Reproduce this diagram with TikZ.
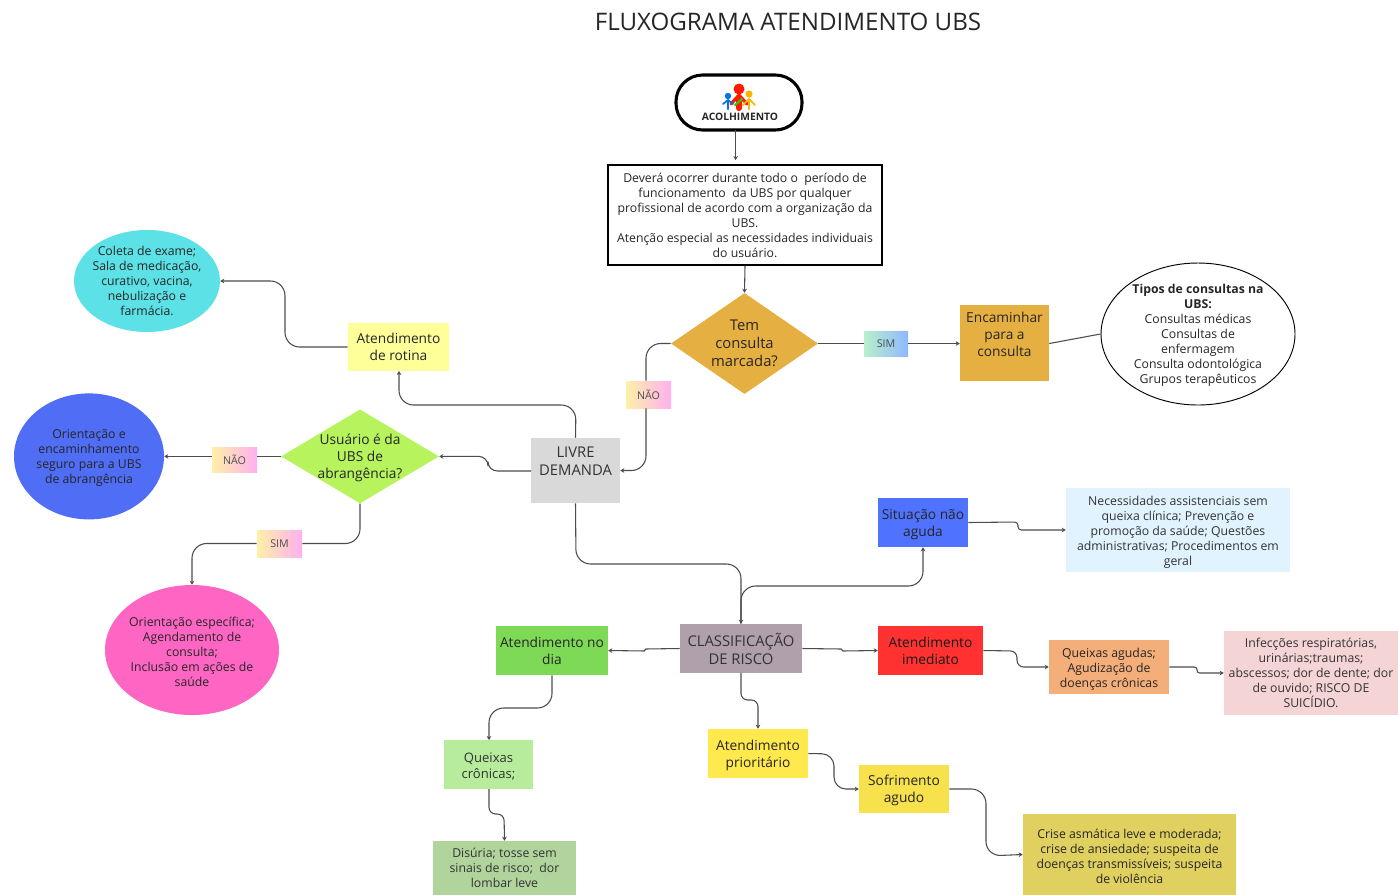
\documentclass[tikz,border=0pt]{standalone}
\usepackage{fontspec}
\setmainfont{Open Sans}
\usetikzlibrary{arrows.meta,shapes.geometric}
\newcommand{\smalltxt}{\fontsize{9.2}{11.25}\selectfont}
\newcommand{\midtxt}{\fontsize{10.3}{12.75}\selectfont}
\newcommand{\bigtxt}{\fontsize{11.1}{13.5}\selectfont}
\newcommand{\tagtxt}{\fontsize{8}{10}\selectfont}
\newcommand{\dn}[1]{\rule{0pt}{#1pt}}
\newcommand{\pxbox}[7]{%
  \pgfmathsetlengthmacro{\bw}{(#4-#2)*0.75pt}%
  \pgfmathsetlengthmacro{\bh}{(#5-#3)*0.75pt}%
  \pgfmathsetmacro{\cx}{(#2+#4)/2}%
  \pgfmathsetmacro{\cy}{(#3+#5)/2}%
  \node[boxbase,minimum width=\bw,minimum height=\bh,#6] (#1) at (\cx,\cy) {#7};}
\definecolor{cOrange}{HTML}{E5B041}
\definecolor{cClass}{HTML}{B0A0AC}
\definecolor{cAg}{HTML}{F4AE7A}
\definecolor{cInf}{HTML}{F4D4D4}
\definecolor{cPri}{HTML}{FFE94D}
\definecolor{cSof}{HTML}{F7E14D}
\definecolor{cCri}{HTML}{E0D060}
\definecolor{cQc}{HTML}{B6EC9C}
\definecolor{cDi}{HTML}{B0D49C}
\definecolor{cCol}{HTML}{5CE1E6}
\definecolor{cOri}{HTML}{4F6DF5}
\definecolor{cEsp}{HTML}{FF66C4}
\definecolor{cDia}{HTML}{7ED957}
\definecolor{cUsu}{HTML}{B6F35C}
\definecolor{cRot}{HTML}{FFFF99}
\definecolor{cSit}{HTML}{4F73FF}
\definecolor{cNec}{HTML}{E1F3FF}
\definecolor{cIme}{HTML}{FF3131}
\definecolor{cGa}{HTML}{B8F0CC}
\definecolor{cGb}{HTML}{8FB8FF}
\definecolor{cYa}{HTML}{FFF0A8}
\definecolor{cYb}{HTML}{FFB0F0}
\tikzset{
  x=0.75pt,y=-0.75pt,
  boxbase/.style={rectangle,inner sep=0pt,align=center,text=black!80},
  small/.style={font=\smalltxt},
  mid/.style={font=\midtxt},
  big/.style={font=\bigtxt},
  tagbox/.style={font=\tagtxt,text=black!70},
  oval/.style={ellipse,inner sep=-14pt,align=center,font=\smalltxt,text=black!85},
  dia/.style={diamond,inner sep=-8pt,align=center,text=black!85},
  conn/.style={draw=black!70,line width=0.8pt,rounded corners=11pt},
  flow/.style={conn,-{Stealth[length=3pt,width=3.5pt]}},
}
\begin{document}
\begin{tikzpicture}
\useasboundingbox (0,0) rectangle (1398,894);
\clip (0,0) rectangle (1398,894);
\fill[white] (0,0) rectangle (1398,894);

\node[font=\fontsize{18.1}{22}\selectfont,text=black!85] (title) at (788,22) {FLUXOGRAMA ATENDIMENTO UBS};

\pxbox{acol}{676}{75}{802}{130}{draw=black,line width=2.3pt,rounded corners=20pt,fill=white}{}
\node[font=\fontsize{7.7}{9}\selectfont\bfseries,text=black!85] (acoltxt) at (740,116.5) {ACOLHIMENTO};
\begin{scope}[line cap=round]
  \fill[red!80!orange] (739,89) circle (5.5);
  \draw[red!80!orange,line width=4.6pt] (739,98) -- (739,108);
  \draw[red!80!orange,line width=2.4pt] (731,104) -- (739,95) -- (747,104);
  \fill[blue!50!cyan!90!black] (728,96) circle (3.2);
  \draw[blue!50!cyan!90!black,line width=2pt] (728,101) -- (728,109);
  \draw[blue!50!cyan!90!black,line width=1.3pt] (723,104) -- (728,100) -- (733,104);
  \fill[orange!60!yellow] (749,94) circle (3.6);
  \draw[orange!60!yellow,line width=2.2pt] (749,100) -- (749,109);
  \draw[orange!60!yellow,line width=1.3pt] (743,105) -- (749,99) -- (755,105);
  \draw[green!60!olive,line width=1.6pt] (735,105) -- (742,99);
\end{scope}

\pxbox{intro}{608}{165}{882}{265}{draw=black,line width=0.85pt,small,fill=white,text=black!85}{Deverá ocorrer durante todo o\ \ período de\\funcionamento\ \ da UBS por qualquer\\profissional de acordo com a organização da\\UBS.\\Atenção especial as necessidades individuais\\do usuário.}

\node[dia,font=\bigtxt,fill=cOrange,minimum width=110.25pt,minimum height=75.75pt,aspect=1.456] (tem) at (744.5,343.5) {Tem\\consulta\\marcada?};
\pxbox{simA}{864}{331}{908}{356}{left color=cGa,right color=cGb,tagbox}{SIM}
\pxbox{enc}{960}{305}{1049}{381}{fill=cOrange,mid,text=black!85}{Encaminhar\\para a\\consulta\\\mbox{}}
\node[oval,draw=black,line width=0.7pt,fill=white,minimum width=145.5pt,minimum height=106.5pt] (tipos) at (1198,334) {\dn{9}\textbf{Tipos de consultas na}\\\textbf{UBS:}\\Consultas médicas\\Consultas de\\enfermagem\\Consulta odontológica\\Grupos terapêuticos};
\pxbox{naoA}{626}{381}{671}{408}{left color=cYa,right color=cYb,tagbox}{NÃO}
\pxbox{livre}{531}{438}{620}{503}{fill=black!15,big}{LIVRE\\DEMANDA\\\mbox{}}
\pxbox{rotina}{348}{323}{449}{371}{fill=cRot,mid,text=black!85}{Atendimento\\de rotina}
\node[oval,fill=cCol,minimum width=109.5pt,minimum height=76.5pt] (coleta) at (147,281) {Coleta de exame;\\Sala de medicação,\\curativo, vacina,\\nebulização e\\farmácia.};
\node[dia,font=\midtxt,fill=cUsu,minimum width=118.5pt,minimum height=70.5pt,aspect=1.68] (usuario) at (360,456.4) {\dn{9.5}Usuário é da\\UBS de\\abrangência?};
\pxbox{naoB}{212}{447}{257}{472}{left color=cYa,right color=cYb,tagbox}{NÃO}
\node[oval,fill=cOri,minimum width=112.5pt,minimum height=94.5pt] (orienta) at (89,456.4) {\dn{8.5}Orientação e\\encaminhamento\\seguro para a UBS\\de abrangência};
\pxbox{simB}{257}{530}{302}{557}{left color=cYa,right color=cYb,tagbox}{SIM}
\node[oval,fill=cEsp,minimum width=130.5pt,minimum height=97.5pt] (especifica) at (192,650) {\dn{9.5}Orientação específica;\\Agendamento de\\consulta;\\Inclusão em ações de\\saúde};

\pxbox{situacao}{878}{498}{968}{547}{fill=cSit,mid,text=black!85}{\dn{11}Situação não\\aguda}
\pxbox{necess}{1066}{488}{1290}{572}{fill=cNec,small}{\dn{11}Necessidades assistenciais sem\\queixa clínica; Prevenção e\\promoção da saúde; Questões\\administrativas; Procedimentos em\\geral}
\pxbox{classif}{680}{624}{802}{673}{fill=cClass,big}{CLASSIFICAÇÃO\\DE RISCO}
\pxbox{nodia}{496}{626}{608}{675}{fill=cDia,mid,text=black!85}{Atendimento no\\dia}
\pxbox{imediato}{878}{626}{983}{675}{fill=cIme,mid,text=black!90}{Atendimento\\imediato}
\pxbox{agudas}{1049}{640}{1169}{694}{fill=cAg,small,text=black!85}{\dn{10.5}Queixas agudas;\\Agudização de\\doenças crônicas}
\pxbox{infec}{1224}{631}{1398}{715}{fill=cInf,small}{Infecções respiratórias,\\urinárias;traumas;\\abscessos; dor de dente; dor\\de ouvido; RISCO DE\\SUICÍDIO.}
\pxbox{priori}{708}{729}{808}{778}{fill=cPri,mid,text=black!85}{\dn{10}Atendimento\\prioritário}
\pxbox{sofri}{859}{765}{949}{813}{fill=cSof,mid,text=black!85}{\dn{9.5}Sofrimento\\agudo}
\pxbox{crise}{1023}{814}{1236}{895}{fill=cCri,small,text=black!85}{\dn{10}Crise asmática leve e moderada;\\crise de ansiedade; suspeita de\\doenças transmissíveis; suspeita\\de violência}
\pxbox{cronicas}{444}{740}{533}{789}{fill=cQc,font=\fontsize{9.8}{12}\selectfont}{\dn{10.5}Queixas\\crônicas;}
\pxbox{disuria}{433}{841}{576}{895}{fill=cDi,small}{Disúria; tosse sem\\sinais de risco;\ \ dor\\lombar leve}

% connectors
\coordinate (acolOut) at (735.6,130);
\coordinate (introIn) at (735.6,160);
\draw[flow] (acolOut) -- (introIn);
\draw[flow] (intro.south) -- (tem.north);
\draw[conn] (tem.east) -- (simA.west |- tem.east);
\draw[flow] (simA.east |- tem.east) -- (enc.west |- tem.east);
\draw[conn] (enc.east |- tem.east) -- (tipos.west);
\coordinate (naoLine) at (646,400);
\draw[conn] (tem.west) -| (naoLine |- naoA.north);
\draw[flow] (naoLine |- naoA.south) |- (livre.east);
\draw[flow] (livre.north) -- (576,405) -- (399,405) -- (399,371);
\draw[flow] (rotina.west) -- (285,347) -- (285,281) -- (coleta.east);
\draw[flow,rounded corners=7pt] (531,471) -- (488,471) -- (488,456.4) -- (usuario.east);
\draw[conn] (usuario.west) -- (naoB.east |- usuario.west);
\draw[flow] (naoB.west |- orienta.east) -- (orienta.east);
\draw[conn] (usuario.south) |- (simB.east);
\draw[flow] (simB.west) -| (especifica.north);
\draw[flow] (livre.south) -- (576,564) -- (741,564) -- (classif.north);
\draw[flow] (classif.north) -- (741,586) -- (923,586) -- (situacao.south);
\draw[flow,rounded corners=2.5pt] (situacao.east) -- (1018,522) -- (1018,530) -- (necess.west);
\draw[flow,rounded corners=0.7pt] (classif.east) -- (842,649) -- (842,651) -- (imediato.west);
\draw[flow,rounded corners=5pt] (imediato.east) -- (1017,651) -- (1017,667) -- (agudas.west);
\draw[flow,rounded corners=2pt] (agudas.east) -- (1197,667) -- (1197,673) -- (infec.west);
\draw[flow,rounded corners=0.7pt] (classif.west) -- (645,649) -- (645,651) -- (nodia.east);
\draw[flow,rounded corners=5pt] (741,673) -- (741,700) -- (758,700) -- (priori.north);
\draw[flow] (nodia.south) -- (552,708) -- (489,708) -- (489,740);
\draw[flow,rounded corners=5pt] (489,789) -- (489,814) -- (504,814) -- (disuria.north);
\draw[flow,rounded corners=9pt] (priori.east) -- (834,754) -- (834,789) -- (sofri.west);
\draw[flow] (sofri.east) -- (986,789) -- (986,856) -- (crise.west);
\end{tikzpicture}
\end{document}
